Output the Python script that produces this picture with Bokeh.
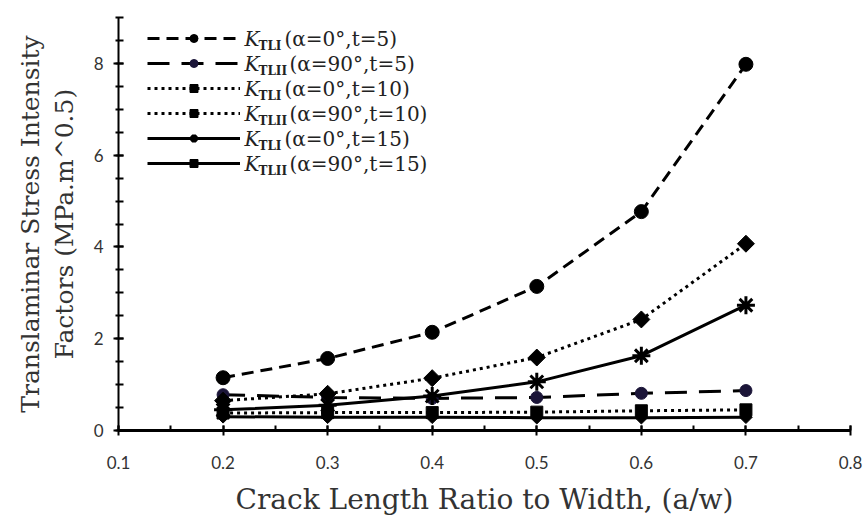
import math
from bokeh.plotting import figure
from bokeh.models import (Range1d, SingleIntervalTicker, Legend, LegendItem, Label, Title)
from bokeh.embed import file_html
from bokeh.resources import INLINE

# ---- data ----
crack_ratio = [0.2, 0.3, 0.4, 0.5, 0.6, 0.7]
k_tli_a0_t5 = [1.15, 1.57, 2.14, 3.14, 4.77, 7.98]
k_tlii_a90_t5 = [0.78, 0.72, 0.70, 0.72, 0.81, 0.87]
k_tli_a0_t10 = [0.65, 0.80, 1.14, 1.59, 2.42, 4.07]
k_tlii_a90_t10 = [0.38, 0.39, 0.39, 0.40, 0.43, 0.45]
k_tli_a0_t15 = [0.45, 0.55, 0.75, 1.06, 1.63, 2.73]
k_tlii_a90_t15 = [0.30, 0.29, 0.29, 0.28, 0.28, 0.29]

legend_k = ["K"] * 6
legend_sub = ["TLI", "TLII", "TLI", "TLII", "TLI", "TLII"]
legend_rest = ["(α=0°,t=5)", "(α=90°,t=5)", "(α=0°,t=10)", "(α=90°,t=10)",
               "(α=0°,t=15)", "(α=90°,t=15)"]

x_title = "Crack Length Ratio to Width, (a/w)"
y_title_1 = "Translaminar Stress Intensity"
y_title_2 = "Factors (MPa.m^0.5)"

SERIF = "DejaVu Serif"
TICKFONT = "Lato"

p = figure(width=864, height=518, output_backend="svg", toolbar_location=None,
           x_range=Range1d(0.1, 0.8), y_range=Range1d(0, 9),
           min_border_left=118, min_border_right=14, min_border_top=17, min_border_bottom=88)
p.outline_line_color = None
p.xgrid.grid_line_color = None
p.ygrid.grid_line_color = None

# axes styling
for ax in (p.xaxis[0], p.yaxis[0]):
    ax.axis_line_width = 2
    ax.axis_line_color = "black"
    ax.major_tick_line_width = 2
    ax.minor_tick_line_width = 2
    ax.major_tick_line_color = "black"
    ax.minor_tick_line_color = "black"
    ax.major_label_text_font = TICKFONT
    ax.major_label_text_font_size = "17px"
    ax.major_label_text_color = "#333333"

p.xaxis.axis_line_width = 3
p.xaxis.ticker = SingleIntervalTicker(interval=0.1, num_minor_ticks=2)
p.yaxis.ticker = SingleIntervalTicker(interval=2, num_minor_ticks=4)
p.xaxis.major_tick_in = 5
p.xaxis.major_tick_out = 5
p.xaxis.minor_tick_in = 5
p.xaxis.minor_tick_out = 0
p.yaxis.major_tick_in = 5
p.yaxis.major_tick_out = 5
p.yaxis.minor_tick_in = 5
p.yaxis.minor_tick_out = 3
p.xaxis.major_label_standoff = 20
p.yaxis.major_label_standoff = 10

p.xaxis.axis_label = x_title
p.xaxis.axis_label_text_font = SERIF
p.xaxis.axis_label_text_font_size = "28px"
p.xaxis.axis_label_text_font_style = "normal"
p.xaxis.axis_label_text_color = "#333333"
p.xaxis.axis_label_standoff = 11

p.yaxis.axis_label = y_title_2
p.yaxis.axis_label_text_font = SERIF
p.yaxis.axis_label_text_font_size = "25px"
p.yaxis.axis_label_text_font_style = "normal"
p.yaxis.axis_label_text_color = "#333333"
p.yaxis.axis_label_standoff = 12

t1 = Title(text=y_title_1, align="center", text_font=SERIF, text_font_size="25px",
           text_font_style="normal", text_color="#333333", standoff=4)
p.add_layout(t1, "left")

# ---- series ----
D45 = math.pi / 4
specs = [
    (k_tli_a0_t5, "12 7", "circle", 14, "black", 0),
    (k_tlii_a90_t5, "22 12", "circle", 12, "#1b1538", 0),
    (k_tli_a0_t10, "3 4", "square", 12, "black", D45),
    (k_tlii_a90_t10, "3 4", "square", 12, "black", 0),
    (k_tli_a0_t15, "solid", "asterisk", 18, "black", 0),
    (k_tlii_a90_t15, "solid", "square", 9, "black", D45),
]

items = []
for i, (ys, dash, marker, size, col, ang) in enumerate(specs):
    lr = p.line(crack_ratio, ys, line_color="black", line_width=3, line_dash=dash)
    sr = p.scatter(crack_ratio, ys, marker=marker, size=size, angle=ang, fill_color=col,
                   line_color=col, line_width=3 if marker == "asterisk" else 1)
    items.append(LegendItem(label=" ", renderers=[lr, sr]))

frame_h = 518 - 17 - 88
legend = Legend(items=items, location=(18, frame_h - 167), margin=0, padding=11,
                glyph_width=93, glyph_height=20, spacing=5, label_height=20,
                label_standoff=0, label_text_font_size="6px",
                border_line_alpha=0, background_fill_alpha=0)
p.add_layout(legend)

# legend text (screen coords, from frame bottom-left)
for i in range(6):
    cy = frame_h - (21 + 25 * i)
    kx = 126
    p.add_layout(Label(x=kx, y=cy, x_units="screen", y_units="screen", text=legend_k[i],
                       text_font=SERIF, text_font_size="20px", text_font_style="italic",
                       text_baseline="middle", text_color="#222222"))
    p.add_layout(Label(x=kx + 14, y=cy - 7, x_units="screen", y_units="screen",
                       text=legend_sub[i], text_font=SERIF, text_font_size="12px",
                       text_font_style="bold", text_baseline="middle", text_color="#222222"))
    sub_w = 26 if legend_sub[i] == "TLI" else 31
    p.add_layout(Label(x=kx + 14 + sub_w, y=cy, x_units="screen", y_units="screen",
                       text=legend_rest[i], text_font=SERIF, text_font_size="20px",
                       text_baseline="middle", text_color="#222222"))

open("out.html", "w").write(file_html(p, INLINE))
